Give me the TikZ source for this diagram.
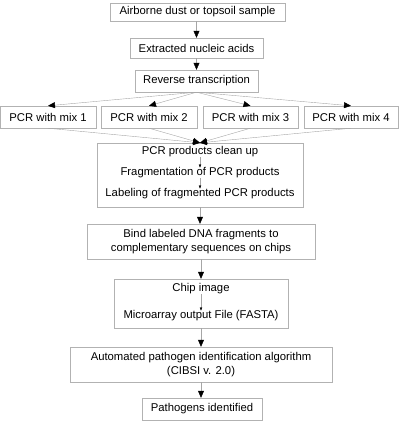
\documentclass[tikz,border=0pt]{standalone}
\usepackage{fontspec}
\setmainfont{Liberation Sans}
\usetikzlibrary{arrows.meta}

\begin{document}
\begin{tikzpicture}[
  x=1pt, y=-1pt,
  stepbox/.style={draw=gray!60, fill=white, inner sep=0pt, align=center,
    font=\fontsize{11.3}{14}\selectfont},
  plain text/.style={inner sep=0pt, font=\fontsize{11.3}{14}\selectfont},
  flow/.style={gray!70, -{Triangle[black, width=6pt, length=7pt]}},
  substep/.style={gray!70, -{Triangle[black, width=2.5pt, length=3pt]}}
]
  % Fix the page size
  \useasboundingbox (0,0) rectangle (400,421);

  % Top chain of single steps
  \node[stepbox, minimum width=175, minimum height=18] (sample) at (197.5,12) {Airborne dust or topsoil sample};
  \node[stepbox, minimum width=133, minimum height=20] (extract) at (196.5,48) {Extracted nucleic acids};
  \node[stepbox, minimum width=123, minimum height=22] (revtr) at (196.5,81) {Reverse transcription};

  % The four PCR mixes
  \node[stepbox, minimum width=96, minimum height=22] (mixA) at (48,117) {PCR with mix 1};
  \node[stepbox, minimum width=96, minimum height=22] (mixB) at (149,117) {PCR with mix 2};
  \node[stepbox, minimum width=95, minimum height=22] (mixC) at (250.5,117) {PCR with mix 3};
  \node[stepbox, minimum width=94, minimum height=22] (mixD) at (351,117) {PCR with mix 4};

  % Grouped box with three sub steps
  \node[stepbox, minimum width=206, minimum height=64] (prep) at (200,175) {};
  \node[plain text] (cleanup) at (200,152) {PCR products clean up};
  \node[plain text] (fragment) at (200,173) {Fragmentation of PCR products};
  \node[plain text] (labeling) at (200,194) {Labeling of fragmented PCR products};

  \node[stepbox, minimum width=228, minimum height=35] (bind) at (201,241.5) {Bind labeled DNA fragments to\\complementary sequences on chips};

  % Grouped box with two sub steps
  \node[stepbox, minimum width=174, minimum height=49] (chip) at (201,303.5) {};
  \node[plain text] (image) at (201,289) {Chip image};
  \node[plain text] (fasta) at (201,316) {Microarray output File (FASTA)};

  \node[stepbox, minimum width=262, minimum height=35] (algo) at (201,364.5) {Automated pathogen identification algorithm\\(CIBSI v. 2.0)};
  \node[stepbox, minimum width=120, minimum height=22] (found) at (202,409) {Pathogens identified};

  % Connectors
  \draw[flow] (sample.south -| extract.north) -- (extract.north);
  \draw[flow] (extract.south) -- (revtr.north);
  \foreach \m in {mixA,mixB,mixC,mixD} {
    \draw[flow] (revtr.south) -- (\m.north);
    \draw[flow] (\m.south) -- (prep.north);
  }
  \draw[substep] (cleanup.south) -- (fragment.north);
  \draw[substep] (fragment.south) -- (labeling.north);
  \draw[flow] (prep.south) -- (bind.north -| prep.south);
  \draw[flow] (bind.south) -- (chip.north);
  \draw[substep] (image.south) -- (fasta.north);
  \draw[flow] (chip.south) -- (algo.north);
  \draw[flow] (algo.south) -- (found.north -| algo.south);

\end{tikzpicture}
\end{document}
